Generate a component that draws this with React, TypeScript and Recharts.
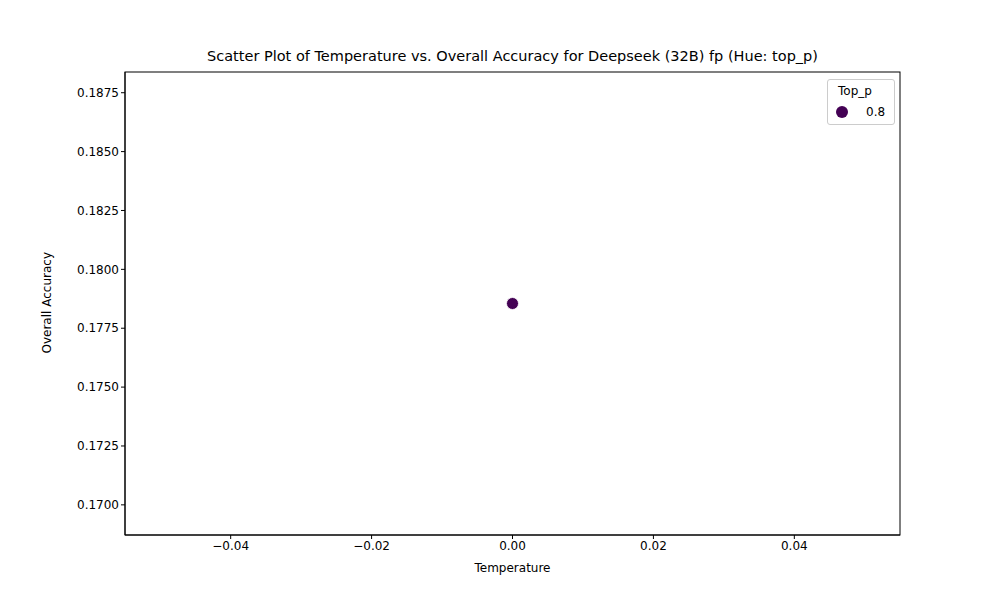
import React from "react";
import { ScatterChart, Scatter, XAxis, YAxis } from "recharts";

const temperature = [0];
const accuracy = [0.17855];
const xTicks = [-0.04, -0.02, 0, 0.02, 0.04];
const yTicks = [0.17, 0.1725, 0.175, 0.1775, 0.18, 0.1825, 0.185, 0.1875];

const points = temperature.map((t, i) => ({ t, acc: accuracy[i] }));
const font = "DejaVu Sans, sans-serif";

export default function App() {
  return (
    <div style={{ position: "absolute", left: 0, top: 0, width: 1000, height: 600, background: "#fff", fontFamily: font }}>
      <div style={{ position: "absolute", top: 48, left: 125, width: 775, textAlign: "center", fontSize: 14.5 }}>
        Scatter Plot of Temperature vs. Overall Accuracy for Deepseek (32B) fp (Hue: top_p)
      </div>
      <ScatterChart width={1000} height={600} margin={{ top: 72, right: 100, bottom: 35, left: 45 }}>
        <XAxis
          type="number"
          dataKey="t"
          domain={[-0.055, 0.055]}
          ticks={xTicks}
          tickFormatter={(v: number) => v.toFixed(2).replace("-", "\u2212")}
          height={30}
          stroke="#000"
          tick={{ fill: "#000", fontSize: 12, fontFamily: font }}
          tickSize={4}
          label={{ value: "Temperature", position: "insideBottom", offset: -7, fill: "#000", fontSize: 12, fontFamily: font }}
        />
        <YAxis
          type="number"
          dataKey="acc"
          domain={[0.16872, 0.18838]}
          ticks={yTicks}
          tickFormatter={(v: number) => v.toFixed(4)}
          width={80}
          stroke="#000"
          tick={{ fill: "#000", fontSize: 12, fontFamily: font }}
          tickSize={4}
          label={{ value: "Overall Accuracy", angle: -90, position: "insideLeft", offset: 2, dy: 50, fill: "#000", fontSize: 12, fontFamily: font }}
        />
        <Scatter
          data={points}
          isAnimationActive={false}
          shape={(p: any) => <circle cx={p.cx} cy={p.cy} r={6} fill="#440154" stroke="#fff" strokeWidth={0.8} />}
        />
        <rect x={125} y={72} width={775} height={463} fill="none" stroke="#000" strokeWidth={1} />
      </ScatterChart>
      <div style={{ position: "absolute", left: 827, top: 79, width: 66, height: 44, border: "1px solid #ccc", borderRadius: 3, fontSize: 12, background: "#fff" }}>
        <div style={{ position: "absolute", left: 10, top: 4 }}>Top_p</div>
        <div style={{ position: "absolute", left: 8, top: 26, width: 12, height: 12, borderRadius: 6, background: "#440154" }} />
        <div style={{ position: "absolute", left: 38, top: 25 }}>0.8</div>
      </div>
    </div>
  );
}
